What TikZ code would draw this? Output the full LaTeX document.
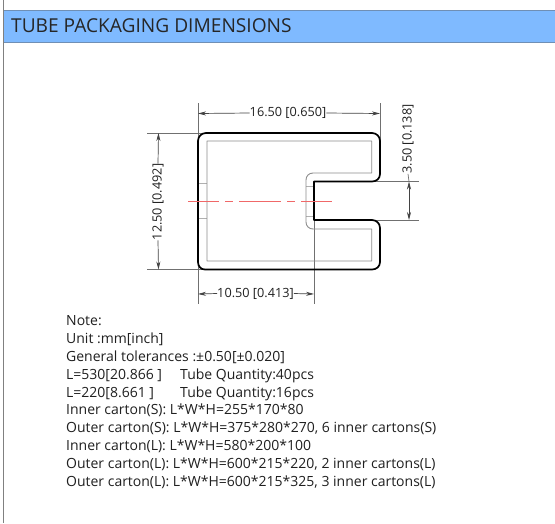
\documentclass[tikz,border=0pt]{standalone}
\usepackage{fontspec}
\setmainfont{Open Sans}
\usetikzlibrary{arrows.meta}
\definecolor{hdr}{HTML}{7FBAFF}
\definecolor{hdrl}{HTML}{6F8FB5}
\definecolor{frm}{HTML}{808080}
\definecolor{ext}{HTML}{707070}
\definecolor{inn}{HTML}{8C8C8C}
\definecolor{tick}{HTML}{B0B0B0}
\definecolor{cen}{HTML}{F06868}
\definecolor{txt}{HTML}{202020}
\tikzset{
  x=1pt,y=-1pt,
  profile/.style={draw=black,line width=1.7pt,line join=round},
  innerline/.style={draw=inn,line width=.9pt,line join=round},
  thinline/.style={draw=tick,line width=.7pt},
  extline/.style={draw=ext,line width=.7pt},
  dimline/.style={draw=ext!60!black,line width=.7pt},
  dimtip/.style={{Stealth[length=8pt,width=4pt]}-},
  dimlabel/.style={font=\fontsize{12.7}{12}\selectfont,text=txt,inner sep=0pt,anchor=center},
  notetext/.style={font=\fontsize{14}{18}\selectfont,text=txt,inner sep=0pt,anchor=base west},
  titletext/.style={font=\fontsize{19.15}{20}\selectfont,text=black!85,inner sep=0pt,anchor=base west}
}
\begin{document}
\begin{tikzpicture}
\useasboundingbox (0,0) rectangle (555,523);
\fill[white] (0,0) rectangle (555,523);
\fill[hdr] (3.5,10.5) rectangle (555,42.5);
\draw[hdrl,line width=1pt] (3.5,10.5) -- (555,10.5) (3.5,42.5) -- (555,42.5);
\draw[frm,line width=1pt] (3.5,0) -- (3.5,523);
\node[titletext] (title) at (11,32.5) {TUBE PACKAGING DIMENSIONS};
% extension lines
\draw[extline] (198,103) -- (198,304);
\draw[extline] (380,103) -- (380,150);
\draw[extline] (147,133) -- (205,133);
\draw[extline] (147,269.5) -- (205,269.5);
\draw[extline] (372,181.5) -- (419,181.5);
\draw[extline] (372,220) -- (419,220);
\draw[extline] (314,181.5) -- (314,304);
% thin ticks
\draw[thinline] (198,183) -- (207,183) (198,218) -- (207,218) (306,186) -- (314,186) (306,216) -- (314,216);
% inner outline
\draw[innerline] (207,141) -- (371.7,141) -- (371.7,173) -- (313,173)
  .. controls (309,173) and (306,176) .. (306,180) -- (306,222)
  .. controls (306,226) and (309,229) .. (313,229) -- (371.7,229) -- (371.7,261) -- (207,261) -- cycle;
% outer profile
\draw[profile] (206,133) -- (372,133) .. controls (376.5,133) and (380,136.5) .. (380,141)
  -- (380,174) .. controls (380,178.5) and (376.5,181.5) .. (372,181.5)
  -- (314,181.5) -- (314,220) -- (372,220)
  .. controls (376.5,220) and (380,223.5) .. (380,228)
  -- (380,262) .. controls (380,266.5) and (376.5,269.5) .. (372,269.5)
  -- (205,269.5) .. controls (201,269.5) and (198,266.5) .. (198,262)
  -- (198,141) .. controls (198,136.5) and (201.5,133) .. (206,133) -- cycle;
% centre line
\draw[cen,line width=1pt,dash pattern=on 31pt off 6pt on 8pt off 6pt on 42pt off 6pt on 8pt off 6pt on 31pt off 6pt] (188,201) -- (332,201);
% dimensions
\coordinate (wl) at (198,113.5);
\coordinate (wr) at (380,113.5);
\node[dimlabel] (wlab) at (288,113) {16.50 [0.650]};
\draw[dimline,dimtip] (wl) -- (wlab.west);
\draw[dimline,dimtip] (wr) -- (wlab.east);
\coordinate (ht) at (158.5,133);
\coordinate (hb) at (158.5,269.5);
\node[dimlabel,rotate=90] (hlab) at (158,202) {12.50 [0.492]};
\draw[dimline,dimtip] (ht) -- (hlab.east);
\draw[dimline,dimtip] (hb) -- (hlab.west);
\coordinate (nt) at (409,181.5);
\coordinate (nb) at (409,220);
\coordinate (nm) at (409,200);
\node[dimlabel,rotate=90] (nlab) at (408,139) {3.50 [0.138]};
\draw[dimline,dimtip] (nt) -- (nm);
\draw[dimline,dimtip] (nb) -- (nm);
\draw[extline] (nt) -- (nlab.west);
\coordinate (bl) at (198,294);
\coordinate (br) at (314,294);
\node[dimlabel] (blab) at (255.5,293.5) {10.50 [0.413]};
\draw[dimline,dimtip] (bl) -- (blab.west);
\draw[dimline,dimtip] (br) -- (blab.east);
% notes
\node[notetext] (n1) at (66,325) {Note:};
\node[notetext] (n2) at (66,343) {Unit :mm[inch]};
\node[notetext] (n3) at (66,361) {General tolerances :±0.50[±0.020]};
\node[notetext] (n4) at (66,379) {L=530[20.866 ]};
\node[notetext] (n4b) at (180,379) {Tube Quantity:40pcs};
\node[notetext] (n5) at (66,397) {L=220[8.661 ]};
\node[notetext] (n5b) at (180,397) {Tube Quantity:16pcs};
\node[notetext] (n6) at (66,414.5) {Inner carton(S): L*W*H=255*170*80};
\node[notetext] (n7) at (66,432.5) {Outer carton(S): L*W*H=375*280*270, 6 inner cartons(S)};
\node[notetext] (n8) at (66,450) {Inner carton(L): L*W*H=580*200*100};
\node[notetext] (n9) at (66,468.5) {Outer carton(L): L*W*H=600*215*220, 2 inner cartons(L)};
\node[notetext] (n10) at (66,486.5) {Outer carton(L): L*W*H=600*215*325, 3 inner cartons(L)};
\end{tikzpicture}
\end{document}
